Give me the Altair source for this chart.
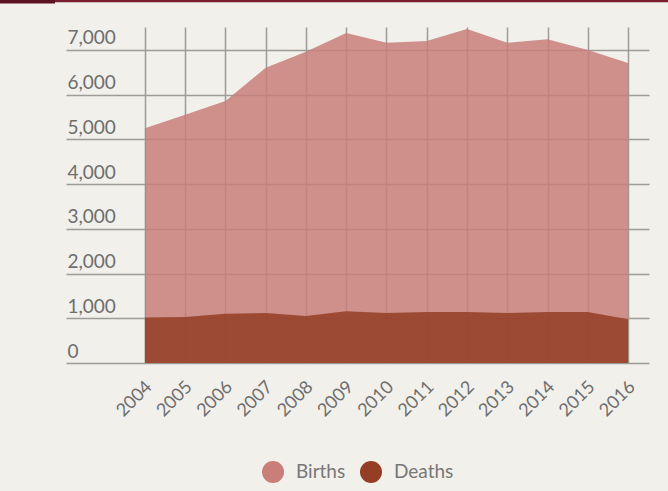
import altair as alt
import pandas as pd

years = [2004, 2005, 2006, 2007, 2008, 2009, 2010, 2011, 2012, 2013, 2014, 2015, 2016]
births = [5250, 5550, 5860, 6600, 6960, 7380, 7160, 7200, 7470, 7160, 7240, 7000, 6710]
deaths = [1020, 1030, 1100, 1120, 1050, 1160, 1120, 1140, 1140, 1120, 1140, 1140, 980]
series = ["Births", "Deaths"]
colors = ["#c97e7a", "#933e25"]
y_ticks = [0, 1000, 2000, 3000, 4000, 5000, 6000, 7000]

rows = []
for y, b, d in zip(years, births, deaths):
    rows.append({"year": y, "series": "Births", "value": b})
    rows.append({"year": y, "series": "Deaths", "value": d})
df = pd.DataFrame(rows)

FONT = "Lato"

area = alt.Chart(df).mark_area(opacity=0.85).encode(
    x=alt.X("year:Q",
            scale=alt.Scale(domain=[2002.04, 2016.52], nice=False, zero=False),
            axis=alt.Axis(values=years, format="d", title=None, grid=True,
                          ticks=False, domain=False, labelAngle=315,
                          labelAlign="right", labelBaseline="middle",
                          labelOverlap=False, labelFlush=False,
                          labelPadding=21, labelOffset=4, labelFontSize=18,
                          labelColor="#6e6e6e", labelFont=FONT)),
    y=alt.Y("value:Q", stack=None,
            scale=alt.Scale(domain=[0, 7514], nice=False),
            axis=alt.Axis(values=y_ticks, format=",.0f", title=None, grid=True,
                          ticks=False, tickSize=0, domain=False,
                          labelAlign="left", labelBaseline="alphabetic",
                          labelOverlap=False, labelFlush=False,
                          labelPadding=-1, labelOffset=-6, labelFontSize=19,
                          labelColor="#6e6e6e", labelFont=FONT)),
    color=alt.Color("series:N",
                    scale=alt.Scale(domain=series, range=colors),
                    legend=alt.Legend(title=None, orient="none", legendX=196, legendY=434,
                                      direction="horizontal", symbolType="circle",
                                      symbolSize=484, symbolOpacity=1, symbolStrokeWidth=0,
                                      labelFontSize=19, labelColor="#777777",
                                      labelFont=FONT, labelOffset=12,
                                      columnPadding=14, padding=0)),
    order=alt.Order("series:N"),
)

bar_base = alt.Chart(pd.DataFrame({"k": [0]}))
top_line = bar_base.mark_rule(color="#7a1e30", strokeWidth=2.5).encode(
    x=alt.value(-66), x2=alt.value(602), y=alt.value(-26))
top_box = bar_base.mark_rule(color="#5c1223", strokeWidth=4).encode(
    x=alt.value(-66), x2=alt.value(-11), y=alt.value(-25.5))

chart = alt.layer(area, top_line, top_box).properties(
    width=583, height=336,
    autosize=alt.AutoSizeParams(type="none"),
    padding={"left": 66, "top": 27, "right": 19, "bottom": 128},
    background="#f1f0eb",
).configure_view(stroke=None).configure_axis(
    gridColor="#9d9c97", gridWidth=1.5
)

chart.save("out.html", embed_options={"renderer": "svg", "actions": False})
